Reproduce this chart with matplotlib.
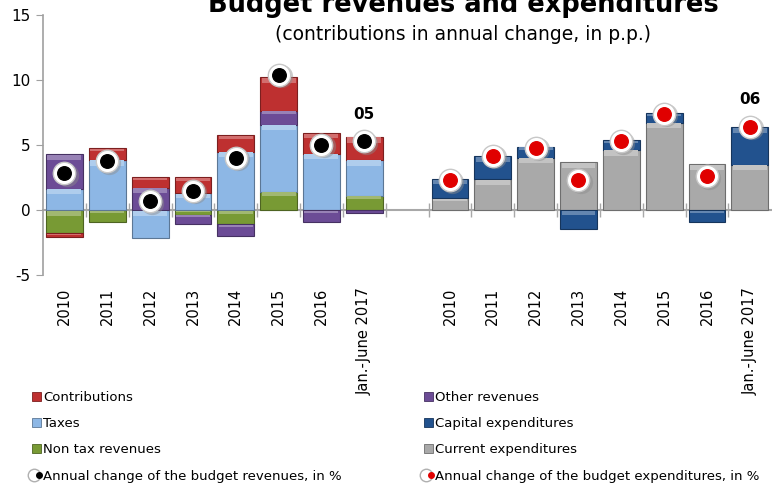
import matplotlib
matplotlib.use("Agg")
import matplotlib.pyplot as plt
import matplotlib.colors as mcolors
from matplotlib.lines import Line2D
from matplotlib.patches import Patch
from matplotlib.legend_handler import HandlerTuple
import numpy as np

plt.rcParams['font.family'] = ['DejaVu Sans']
plt.rcParams['axes.unicode_minus'] = False

# Categories
years = ["2010", "2011", "2012", "2013", "2014", "2015", "2016", "Jan.-June 2017"]

# Revenue contributions (p.p.)
non_tax = [-1.80, -0.95, 0.00, -0.35, -1.08, 1.41, 0.00, 1.10]
taxes = [1.64, 3.85, -2.13, 1.28, 4.49, 5.16, 4.33, 2.75]
other_rev = [2.64, 0.00, 1.72, -0.75, -0.89, 1.05, -0.95, -0.26]
contrib = [-0.25, 0.89, 0.79, 1.23, 1.25, 2.58, 1.57, 1.77]
rev_change = [2.82, 3.77, 0.69, 1.49, 4.03, 10.41, 5.03, 5.31]

# Expenditure contributions (p.p.)
current_exp = [0.92, 2.36, 4.03, 3.67, 4.62, 6.72, 3.51, 3.49]
capital_exp = [1.44, 1.79, 0.82, -1.44, 0.76, 0.72, -0.95, 2.89]
exp_change = [2.31, 4.18, 4.80, 2.31, 5.28, 7.41, 2.64, 6.41]

# Value labels
rev_label = "05"
exp_label = "06"

C_CONTRIB = "#BE3030"
C_TAXES = "#8DB7E5"
C_NONTAX = "#789A34"
C_OTHER = "#6C4C96"
C_CAPITAL = "#22528E"
C_CURRENT = "#A9A9A9"

n = len(years)
x_rev = np.arange(n)
x_exp = np.arange(n) + n + 1
width = 0.86

fig = plt.figure(figsize=(7.72, 4.86), dpi=100)
ax = fig.add_axes([43 / 772, 1 - 275 / 486, 1 - 43 / 772 - 0.001, 260 / 486])


def lighten(c, f):
    r, g, b = mcolors.to_rgb(c)
    return (r + (1 - r) * f, g + (1 - g) * f, b + (1 - b) * f)


def darken(c, f):
    r, g, b = mcolors.to_rgb(c)
    return (r * (1 - f), g * (1 - f), b * (1 - f))


def stacked(xs, series, colors):
    pos = np.zeros(len(xs))
    neg = np.zeros(len(xs))
    for vals, col in zip(series, colors):
        vals = np.asarray(vals, dtype=float)
        base = np.where(vals >= 0, pos, neg)
        ax.bar(xs, vals, width, bottom=base, color=col,
               edgecolor=darken(col, 0.35), linewidth=0.8, zorder=2)
        # bevel highlight on the upper face of each block
        top = np.where(vals >= 0, base + vals, base)
        h = np.minimum(np.abs(vals) * 0.22, 0.4)
        ax.bar(xs, -h, width * 0.92, bottom=top - 0.04, color=lighten(col, 0.3),
               edgecolor="none", linewidth=0, zorder=2.5)
        pos = np.where(vals >= 0, pos + vals, pos)
        neg = np.where(vals < 0, neg + vals, neg)


stacked(x_rev, [non_tax, taxes, other_rev, contrib],
        [C_NONTAX, C_TAXES, C_OTHER, C_CONTRIB])
stacked(x_exp, [current_exp, capital_exp], [C_CURRENT, C_CAPITAL])

# Annual change markers
for xs, ys, inner in [(x_rev, rev_change, "black"), (x_exp, exp_change, "#E00000")]:
    ax.scatter(xs + 0.05, np.array(ys) - 0.14, s=280, color="#8C8C8C",
               alpha=0.45, zorder=4, linewidths=0)
    ax.scatter(xs, ys, s=260, color="white", edgecolor="#C8C8C8",
               linewidth=1.0, zorder=5)
    ax.scatter(xs, ys, s=95, color=inner, zorder=6)

ax.text(x_rev[-1], rev_change[-1] + 2.0, rev_label, ha="center", va="center",
        fontsize=11, fontweight="bold")
ax.text(x_exp[-1], exp_change[-1] + 2.1, exp_label, ha="center", va="center",
        fontsize=11, fontweight="bold")

# Axes styling
ax.set_xlim(-0.5, 2 * n + 0.5)
ax.set_ylim(-5, 15)
ax.set_yticks([-5, 0, 5, 10, 15])
ax.tick_params(axis="y", direction="out", length=5, color="#A0A0A0",
               labelsize=11, pad=4)
for s in ["top", "right"]:
    ax.spines[s].set_visible(False)
ax.spines["left"].set_color("#A0A0A0")
ax.spines["left"].set_linewidth(1.2)
ax.spines["bottom"].set_position(("data", 0))
ax.spines["bottom"].set_color("#A8A8A8")
ax.spines["bottom"].set_linewidth(1.5)
ax.spines["bottom"].set_zorder(1)

boundaries = np.arange(0.5, 2 * n, 1.0)
ax.set_xticks(boundaries, minor=True)
ax.set_xticks([])
ax.tick_params(axis="x", which="minor", direction="inout", length=10,
               color="#A8A8A8", width=1.0, labelbottom=False)

sec = ax.secondary_xaxis("bottom")
sec.set_xticks(list(x_rev) + list(x_exp))
sec.set_xticklabels(years + years, rotation=90, va="top", fontsize=10.5)
sec.tick_params(axis="x", length=0, pad=9)
sec.spines["bottom"].set_visible(False)

# Title
fig.text(0.6, 1 - 12 / 486, "Budget revenues and expenditures", ha="center",
         va="baseline", fontsize=18.5, fontweight="bold")
fig.text(0.6, 1 - 40 / 486, "(contributions in annual change, in p.p.)",
         ha="center", va="baseline", fontsize=13.5)

# Legends
def sq(c):
    return Patch(facecolor=c, edgecolor=darken(c, 0.35), linewidth=0.6)


rev_marker = (Line2D([], [], marker="o", ls="none", markersize=9,
                     markerfacecolor="white", markeredgecolor="#B0B0B0"),
              Line2D([], [], marker="o", ls="none", markersize=4,
                     markerfacecolor="black", markeredgecolor="black"))
exp_marker = (Line2D([], [], marker="o", ls="none", markersize=9,
                     markerfacecolor="white", markeredgecolor="#B0B0B0"),
              Line2D([], [], marker="o", ls="none", markersize=4,
                     markerfacecolor="#E00000", markeredgecolor="#E00000"))

common = dict(frameon=False, fontsize=9.5, handlelength=0.7, handleheight=0.7,
              handletextpad=0.15, labelspacing=1.0, borderaxespad=0,
              borderpad=0, loc="upper left",
              handler_map={tuple: HandlerTuple(ndivide=None, pad=0)})

leg1 = fig.legend([sq(C_CONTRIB), sq(C_TAXES), sq(C_NONTAX), rev_marker],
                  ["Contributions", "Taxes", "Non tax revenues",
                   "Annual change of the budget revenues, in %"],
                  bbox_to_anchor=(32 / 772, 1 - 391 / 486), **common)
leg2 = fig.legend([sq(C_OTHER), sq(C_CAPITAL), sq(C_CURRENT), exp_marker],
                  ["Other revenues", "Capital expenditures",
                   "Current expenditures",
                   "Annual change of the budget expenditures, in %"],
                  bbox_to_anchor=(424 / 772, 1 - 391 / 486), **common)

fig.savefig("out.png", dpi=100)
